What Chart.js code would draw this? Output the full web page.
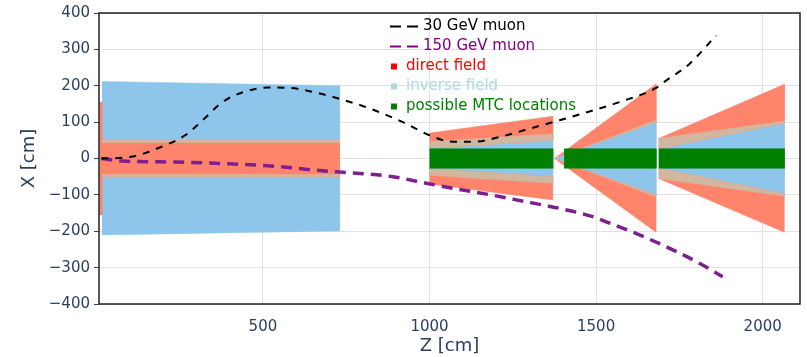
<!DOCTYPE html>
<html>
<head>
<meta charset="utf-8">
<script src="https://cdn.jsdelivr.net/npm/chart.js@4/dist/chart.umd.min.js"></script>
<style>
  html, body { margin: 0; padding: 0; background: #fff; }
</style>
</head>
<body>
<canvas id="chart" width="807" height="357"></canvas>
<script>
// axis ticks
const zTicks = [500, 1000, 1500, 2000];
const xTicks = [-400, -300, -200, -100, 0, 100, 200, 300, 400];

// muon tracks, [Z, X] in cm
const muon30 = [
  [15, 0], [100, 4], [200, 34], [270, 66], [320, 106], [380, 156], [440, 182],
  [515, 195], [580, 194], [650, 183], [730, 164], [810, 141], [920, 100],
  [1000, 64], [1070, 46], [1130, 46], [1210, 59], [1300, 82], [1390, 105],
  [1490, 132], [1570, 155], [1680, 194], [1710, 214], [1780, 260], [1860, 338]
];
const muon150 = [
  [15, 0], [80, -7], [180, -9], [280, -11], [380, -14], [480, -18], [580, -25],
  [680, -34], [760, -39], [890, -50], [990, -68], [1090, -85], [1190, -101],
  [1290, -119], [1390, -137], [1490, -160], [1530, -174], [1630, -210],
  [1730, -251], [1810, -288], [1880, -325]
];

// field regions, polygons of [Z, X]
const directField = [
  [[9, 155], [17, 155], [17, 51], [730, 51], [730, -51], [17, -51], [17, -155], [9, -155]],
  [[1000, 70], [1370, 116], [1370, 50], [1000, 28]],
  [[1000, -70], [1370, -114], [1370, -50], [1000, -28]],
  [[1375, 0], [1680, 205], [1680, 99]],
  [[1375, 0], [1680, -203], [1680, -99]],
  [[1688, 55], [2065, 204], [2065, 97], [1688, 27]],
  [[1688, -55], [2065, -203], [2065, -97], [1688, -27]]
];
const inverseField = [
  [[17, 212], [730, 200], [730, 44], [17, 44]],
  [[17, -44], [730, -44], [730, -199], [17, -210]],
  [[1000, 46], [1370, 68], [1370, -68], [1000, -46]],
  [[1375, 0], [1680, 105], [1680, -105]],
  [[1688, 55], [2065, 103], [2065, -103], [1688, -55]]
];
// where direct and inverse overlap
const bothFields = [
  [[17, 51], [730, 51], [730, 44], [17, 44]],
  [[17, -51], [730, -51], [730, -44], [17, -44]],
  [[1000, 46], [1370, 68], [1370, 50], [1000, 28]],
  [[1000, -46], [1370, -68], [1370, -50], [1000, -28]],
  [[1375, 0], [1680, 105], [1680, 99]],
  [[1375, 0], [1680, -105], [1680, -99]],
  [[1688, 55], [2065, 103], [2065, 97], [1688, 27]],
  [[1688, -55], [2065, -103], [2065, -97], [1688, -27]]
];
const mtcLocations = [
  [[1000, 27], [1370, 27], [1370, -27], [1000, -27]],
  [[1404, 27], [1680, 27], [1680, -27], [1404, -27]],
  [[1688, 27], [2065, 27], [2065, -27], [1688, -27]]
];

const seriesNames = ["30 GeV muon", "150 GeV muon", "direct field", "inverse field", "possible MTC locations"];

// Colours
const INK    = "#2a3f5f";
const GRID   = "#e2e2e2";
const RED    = "#ff846c";
const BLUE   = "#8ec5eb";
const TAN    = "#d2b7a0";
const GREEN  = "#008000";
const PURPLE = "#7f1f8f";

const toPts = arr => arr.map(([z, x]) => ({ x: z, y: x }));

function region(poly, color, order) {
  return {
    data: toPts(poly), showLine: true, fill: "shape",
    backgroundColor: color, borderColor: color, borderWidth: 0.5,
    pointRadius: 0, tension: 0, order
  };
}

const datasets = [
  {
    label: seriesNames[0], data: toPts(muon30), showLine: true, fill: false,
    borderColor: "#000", borderWidth: 2, borderDash: [7, 7],
    pointRadius: 0, cubicInterpolationMode: "monotone", order: 0
  },
  {
    label: seriesNames[1], data: toPts(muon150), showLine: true, fill: false,
    borderColor: PURPLE, borderWidth: 3.5, borderDash: [11, 7],
    pointRadius: 0, cubicInterpolationMode: "monotone", order: 1
  },
  ...mtcLocations.map(p => region(p, GREEN, 2)),
  ...bothFields.map(p => region(p, TAN, 3)),
  ...directField.map(p => region(p, RED, 4)),
  ...inverseField.map(p => region(p, BLUE, 5)),
];

const legendItems = [
  { name: seriesNames[0], color: "#000",   kind: "line" },
  { name: seriesNames[1], color: "purple", kind: "line" },
  { name: seriesNames[2], color: "#ff0000", kind: "box" },
  { name: seriesNames[3], color: "#add8e6", kind: "box" },
  { name: seriesNames[4], color: GREEN,    kind: "box" },
];

// legend drawn inside the plot, plotly style
const legendPlugin = {
  id: "innerLegend",
  afterDraw(chart) {
    const ctx = chart.ctx;
    ctx.save();
    ctx.font = '15px "DejaVu Sans"';
    ctx.textBaseline = "middle";
    legendItems.forEach((it, i) => {
      const y = 26.5 + i * 20;
      if (it.kind === "line") {
        ctx.strokeStyle = it.color;
        ctx.lineWidth = 2;
        ctx.setLineDash([11, 6]);
        ctx.beginPath();
        ctx.moveTo(390, y);
        ctx.lineTo(418, y);
        ctx.stroke();
        ctx.setLineDash([]);
        ctx.fillStyle = it.color;
        ctx.fillText(it.name, 423, y);
      } else {
        ctx.fillStyle = it.color;
        ctx.fillRect(391, y - 3, 6, 6);
        ctx.fillText(it.name, 406, y);
      }
    });
    ctx.restore();
  }
};

const framePlugin = {
  id: "frame",
  afterDatasetsDraw(chart) {
    const { ctx, chartArea: a } = chart;
    ctx.save();
    ctx.strokeStyle = "#222";
    ctx.lineWidth = 1.5;
    ctx.strokeRect(a.left, a.top, a.right - a.left, a.bottom - a.top);
    ctx.restore();
  }
};

const fmt = v => (v < 0 ? "\u2212" + Math.abs(v) : String(v));

Chart.defaults.font.family = '"DejaVu Sans", Verdana, sans-serif';

new Chart(document.getElementById("chart"), {
  type: "scatter",
  data: { datasets },
  options: {
    responsive: false,
    animation: false,
    devicePixelRatio: 1,
    layout: { padding: { left: 0, right: 7, top: 12, bottom: 0 } },
    plugins: { legend: { display: false }, tooltip: { enabled: false } },
    scales: {
      x: {
        type: "linear", min: 8, max: 2112,
        afterBuildTicks: s => { s.ticks = zTicks.map(v => ({ value: v })); },
        afterFit: s => { s.height = 53; },
        grid: { color: GRID, drawTicks: false },
        border: { display: false },
        ticks: { padding: 14, color: INK, font: { size: 15 }, maxRotation: 0, autoSkip: false, callback: v => fmt(v) },
        title: { display: true, text: "Z [cm]", color: INK, font: { size: 18 }, padding: { top: 0, bottom: 0 } }
      },
      y: {
        type: "linear", min: -400, max: 400,
        afterBuildTicks: s => { s.ticks = xTicks.map(v => ({ value: v })); },
        afterFit: s => { s.width = 99; },
        grid: { color: GRID, drawTicks: true, tickLength: 5, tickColor: "#444" },
        border: { display: false },
        ticks: { padding: 4, color: INK, font: { size: 15 }, callback: v => fmt(v) },
        title: { display: true, text: "X [cm]", color: INK, font: { size: 18 }, padding: { top: 19, bottom: 0 } }
      }
    }
  },
  plugins: [legendPlugin, framePlugin]
});
</script>
</body>
</html>
